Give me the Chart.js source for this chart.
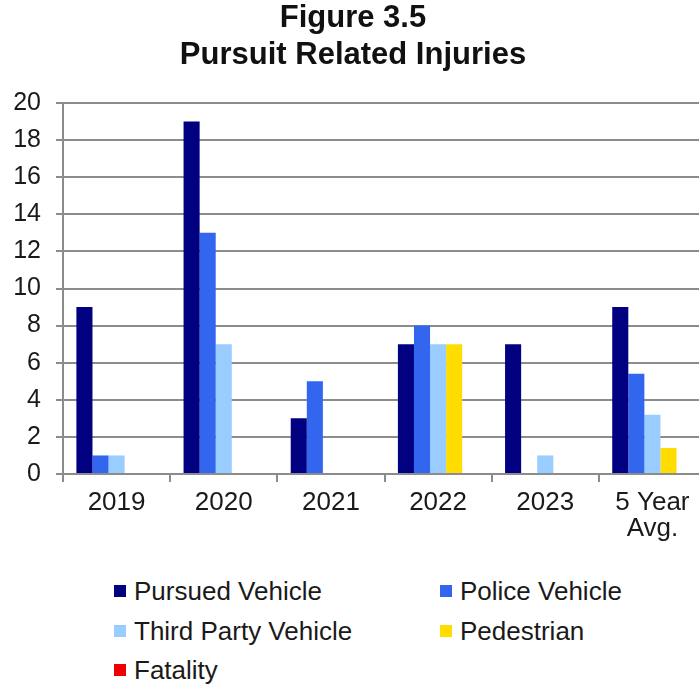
<!DOCTYPE html>
<html>
<head>
<meta charset="utf-8">
<script src="https://cdn.jsdelivr.net/npm/chart.js@4.4.1/dist/chart.umd.min.js"></script>
<style>
  html, body { margin: 0; padding: 0; background: #fff; overflow: hidden; }
  #wrap { position: relative; width: 699px; height: 687px; overflow: hidden; font-family: "Liberation Sans", Arial, sans-serif; }
  #c { position: absolute; left: 0; top: 0; }
  .lg { position: absolute; font-size: 26px; color: #1a1a1a; line-height: 30px; height: 30px; white-space: nowrap; }
  .lg i { position: absolute; left: 0; top: 9px; width: 12px; height: 12px; }
  .lg span { position: absolute; left: 20px; top: 0; }
</style>
</head>
<body>
<div id="wrap">
  <canvas id="c" width="706" height="560"></canvas>
  <div id="legend"></div>
</div>
<script>
const categories = ['2019', '2020', '2021', '2022', '2023', ['5 Year', 'Avg.']];
const pursuedVehicle = [9, 19, 3, 7, 7, 9];
const policeVehicle = [1, 13, 5, 8, 0, 5.4];
const thirdPartyVehicle = [1, 7, 0, 7, 1, 3.2];
const pedestrian = [0, 0, 0, 7, 0, 1.4];
const fatality = [0, 0, 0, 0, 0, 0];
const yTicks = [0, 2, 4, 6, 8, 10, 12, 14, 16, 18, 20];

const seriesNames = ['Pursued Vehicle', 'Police Vehicle', 'Third Party Vehicle', 'Pedestrian', 'Fatality'];
const seriesColors = ['#000080', '#3366ee', '#99ccff', '#ffdd00', '#ee0000'];
const seriesData = [pursuedVehicle, policeVehicle, thirdPartyVehicle, pedestrian, fatality];

const grey = '#8c8c8c';
const font = 'Liberation Sans';

new Chart(document.getElementById('c'), {
  type: 'bar',
  data: {
    labels: categories,
    datasets: seriesNames.map((n, i) => ({
      label: n,
      data: seriesData[i],
      backgroundColor: seriesColors[i],
      borderWidth: 0,
      categoryPercentage: 0.75,
      barPercentage: 1.0
    }))
  },
  options: {
    responsive: false,
    animation: false,
    devicePixelRatio: 1,
    layout: { padding: { top: 0, left: 0, right: 0, bottom: 0 } },
    plugins: {
      legend: { display: false },
      tooltip: { enabled: false },
      title: {
        display: true,
        text: ['Figure 3.5', 'Pursuit Related Injuries'],
        color: '#111',
        font: { family: font, size: 31, weight: 'bold', lineHeight: 1.2 },
        padding: { top: 0, bottom: 28.6 }
      }
    },
    scales: {
      x: {
        grid: { offset: true, drawOnChartArea: false, drawTicks: true, tickLength: 8, color: grey, lineWidth: 2 },
        border: { display: true, color: grey, width: 2 },
        ticks: { color: '#1a1a1a', padding: 8, maxRotation: 0, autoSkip: false, font: { family: font, size: 26, lineHeight: 1.0 } },
        afterFit: s => { s.height = 86; }
      },
      y: {
        min: 0, max: 20,
        afterBuildTicks: s => { s.ticks = yTicks.map(v => ({ value: v })); },
        grid: { color: grey, lineWidth: 2, tickLength: 7 },
        border: { display: true, color: grey, width: 2 },
        ticks: { color: '#1a1a1a', padding: 15, font: { family: font, size: 25 } },
        afterFit: s => { s.width = 63; }
      }
    }
  }
});

// Two-column legend built from the series arrays
const legendPos = [[114, 591], [440, 591], [114, 631], [440, 631], [114, 670]];
const lg = document.getElementById('legend');
seriesNames.forEach((n, i) => {
  const d = document.createElement('div');
  d.className = 'lg';
  d.style.left = legendPos[i][0] + 'px';
  d.style.top = (legendPos[i][1] - 15) + 'px';
  const sw = document.createElement('i');
  sw.style.background = seriesColors[i];
  const t = document.createElement('span');
  t.textContent = n;
  d.appendChild(sw);
  d.appendChild(t);
  lg.appendChild(d);
});
</script>
</body>
</html>
